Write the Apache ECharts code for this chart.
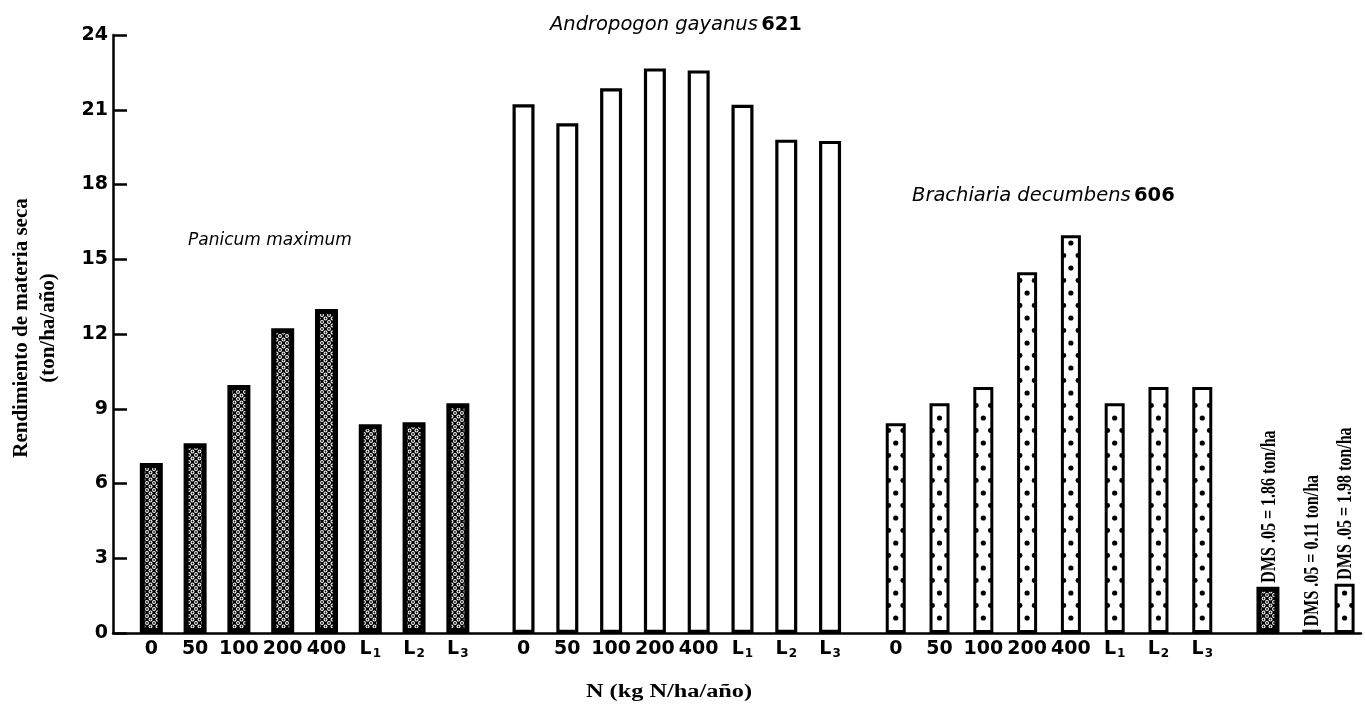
<!DOCTYPE html>
<html>
<head>
<meta charset="utf-8">
<script src="https://cdn.jsdelivr.net/npm/echarts@6/dist/echarts.min.js"></script>
<style>
  html, body { margin: 0; padding: 0; background: #fff; }
  #chart { width: 1365px; height: 705px; }
</style>
</head>
<body>
<div id="chart"></div>
<script>
// Nitrogen levels (kg N/ha/año) shown under every grass
const nLevels = ['0', '50', '100', '200', '400', 'L1', 'L2', 'L3'];

// Dry-matter yield (ton/ha/año) per nitrogen level
const panicum    = [6.82, 7.62, 9.95, 12.23, 13.0, 8.38, 8.46, 9.22];
const andropogon = [21.22, 20.46, 21.86, 22.66, 22.58, 21.2, 19.8, 19.75];
const brachiaria = [8.42, 9.22, 9.87, 14.48, 15.96, 9.22, 9.87, 9.87];

// Least significant difference (DMS .05) for each grass, ton/ha
const dmsValues = [1.86, 0.11, 1.98];

// Grass names (italic) and accession numbers (bold)
const grassNames = ['Panicum maximum', 'Andropogon gayanus', 'Brachiaria decumbens'];
const grassCodes = ['', '621', '606'];

// Y axis tick values
const yTicks = [0, 3, 6, 9, 12, 15, 18, 21, 24];

// ---- slot layout on the category axis ----
const SLOT_COUNT = 114;
const SLOT_LEAD = 3, SLOT_STEP = 4, GROUP_GAP = 6;
const DMS_GAPS = [6, 4, 3];

const slotNames = [];
for (let i = 0; i < SLOT_COUNT; i++) slotNames.push('s' + i);
const slotLabel = {};
const groupSlots = [];
let s = SLOT_LEAD;
[panicum, andropogon, brachiaria].forEach((vals) => {
  const slots = [];
  vals.forEach((v, j) => {
    slots.push(s);
    slotLabel[s] = nLevels[j];
    s += SLOT_STEP;
  });
  groupSlots.push(slots);
  s += GROUP_GAP - SLOT_STEP;
});
const dmsSlots = [];
let d = groupSlots[2][groupSlots[2].length - 1];
DMS_GAPS.forEach(gap => { d += gap; dmsSlots.push(d); });

// ---- fills ----
// dense screen of small white rings on black
function crossPattern() {
  const n = 7;
  const c = document.createElement('canvas');
  c.width = n; c.height = n;
  const g = c.getContext('2d');
  g.fillStyle = '#000';
  g.fillRect(0, 0, n, n);
  const pts = [[0, 0], [n, 0], [0, n], [n, n], [n / 2, n / 2]];
  g.fillStyle = '#fff';
  pts.forEach(([x, y]) => { g.beginPath(); g.arc(x, y, 1.95, 0, Math.PI * 2); g.fill(); });
  g.fillStyle = '#000';
  pts.forEach(([x, y]) => { g.beginPath(); g.arc(x, y, 0.9, 0, Math.PI * 2); g.fill(); });
  return c;
}
const CROSS_FILL = { image: crossPattern(), repeat: 'repeat' };

const BAR_KINDS = {
  cross: { width: 23, border: 5 },
  open:  { width: 22, border: 3.2 },
  dots:  { width: 20, border: 3 }
};
const DMS_KINDS = ['cross', 'open', 'dots'];

function barShape(kindName, api) {
  const kind = BAR_KINDS[kindName];
  const top = api.coord([api.value(0), api.value(1)]);
  const base = api.coord([api.value(0), 0]);
  const cx = top[0];
  const lw = kind.border;
  const h = base[1] - top[1];
  const children = [{
    type: 'rect',
    shape: {
      x: cx - kind.width / 2 + lw / 2,
      y: Math.min(top[1] + lw / 2, base[1] - lw / 2),
      width: kind.width - lw,
      height: Math.max(h - lw, 0)
    },
    style: {
      fill: kindName === 'cross' ? CROSS_FILL : '#fff',
      stroke: '#000',
      lineWidth: lw
    }
  }];
  if (kindName === 'dots') {
    const innerL = cx - kind.width / 2 + lw;
    const innerR = cx + kind.width / 2 - lw;
    for (let y = base[1] - 15; y > top[1] + 6; y -= 25) {
      children.push({ type: 'circle', shape: { cx: cx, cy: y, r: 2.6 }, style: { fill: '#000' } });
    }
    for (let y = base[1] - 27.5; y > top[1] + 6; y -= 25) {
      children.push({ type: 'circle', shape: { cx: innerL, cy: y, r: 2.4 }, style: { fill: '#000' } });
      children.push({ type: 'circle', shape: { cx: innerR, cy: y, r: 2.4 }, style: { fill: '#000' } });
    }
  }
  return { cx, top, children };
}

function groupSeries(values, slots, kindName) {
  return {
    type: 'custom',
    data: values.map((v, j) => [slots[j], v]),
    encode: { x: 0, y: 1 },
    renderItem: (params, api) => ({ type: 'group', children: barShape(kindName, api).children })
  };
}

const dmsSeries = {
  type: 'custom',
  data: dmsValues.map((v, i) => [dmsSlots[i], v]),
  encode: { x: 0, y: 1 },
  renderItem: (params, api) => {
    const i = params.dataIndex;
    const b = barShape(DMS_KINDS[i], api);
    b.children.push({
      type: 'text',
      x: b.cx + 1,
      y: b.top[1] - 4,
      rotation: Math.PI / 2,
      scaleY: 1.35,
      style: {
        text: 'DMS .05 = ' + dmsValues[i].toFixed(2) + ' ton/ha',
        font: 'bold 16px "Liberation Serif"',
        fill: '#000',
        align: 'left',
        verticalAlign: 'middle'
      }
    });
    return { type: 'group', children: b.children };
  }
};

function levelLabel(lbl) {
  if (!lbl) return '';
  if (lbl[0] === 'L') return '{n|L}{s|' + lbl.slice(1) + '}';
  return '{n|' + lbl + '}';
}

function titleText(i) {
  return '{i|' + grassNames[i] + '}' + (grassCodes[i] ? ' {b|' + grassCodes[i] + '}' : '');
}
const titleRich = (size) => ({
  i: { fontFamily: 'DejaVu Sans', fontStyle: 'italic', fontSize: size, fill: '#000' },
  b: { fontFamily: 'DejaVu Sans', fontWeight: 'bold', fontSize: size, fill: '#000' }
});

const chart = echarts.init(document.getElementById('chart'));
chart.setOption({
  animation: false,
  backgroundColor: '#fff',
  grid: { left: 113, right: 4, top: 35, bottom: 72, outerBoundsMode: 'none', containLabel: false },
  xAxis: {
    type: 'category',
    data: slotNames,
    axisLine: { lineStyle: { color: '#000', width: 2.5 } },
    axisTick: { show: false },
    splitLine: { show: false },
    axisLabel: {
      interval: 0,
      margin: 5,
      formatter: (val, idx) => levelLabel(slotLabel[idx]),
      rich: {
        n: { fontFamily: 'DejaVu Sans', fontWeight: 'bold', fontSize: 19, color: '#000', lineHeight: 22 },
        s: { fontFamily: 'DejaVu Sans', fontWeight: 'bold', fontSize: 12, color: '#000', verticalAlign: 'bottom', lineHeight: 12, padding: [0, 0, 0, 1] }
      }
    }
  },
  yAxis: {
    type: 'value',
    min: yTicks[0],
    max: yTicks[yTicks.length - 1],
    interval: yTicks[1] - yTicks[0],
    name: 'Rendimiento de materia seca\n(ton/ha/año)',
    nameLocation: 'middle',
    nameRotate: 90,
    nameGap: 51,
    nameTextStyle: {
      fontFamily: 'Liberation Serif', fontWeight: 'bold', fontSize: 21,
      color: '#000', lineHeight: 27, padding: [0, 0, 0, 12]
    },
    axisLine: { show: true, lineStyle: { color: '#000', width: 2.5 } },
    axisTick: { show: true, inside: true, length: 14, lineStyle: { color: '#000', width: 2.5 } },
    splitLine: { show: false },
    axisLabel: {
      fontFamily: 'DejaVu Sans', fontWeight: 'bold', fontSize: 19, color: '#000', margin: 5
    }
  },
  graphic: [
    {
      type: 'text', x: 188, y: 241,
      style: { text: titleText(0), rich: titleRich(17), verticalAlign: 'middle', textVerticalAlign: 'middle' }
    },
    {
      type: 'text', x: 550, y: 25,
      style: { text: titleText(1), rich: titleRich(19.5), verticalAlign: 'middle', textVerticalAlign: 'middle' }
    },
    {
      type: 'text', x: 912, y: 196,
      style: { text: titleText(2), rich: titleRich(19.5), verticalAlign: 'middle', textVerticalAlign: 'middle' }
    },
    {
      type: 'text', x: 669, y: 692, scaleX: 1.35,
      style: {
        text: 'N (kg N/ha/año)', font: 'bold 18px "Liberation Serif"', fill: '#000',
        align: 'center', textAlign: 'center', verticalAlign: 'middle', textVerticalAlign: 'middle'
      }
    }
  ],
  series: [
    groupSeries(panicum, groupSlots[0], 'cross'),
    groupSeries(andropogon, groupSlots[1], 'open'),
    groupSeries(brachiaria, groupSlots[2], 'dots'),
    dmsSeries
  ]
});
</script>
</body>
</html>
